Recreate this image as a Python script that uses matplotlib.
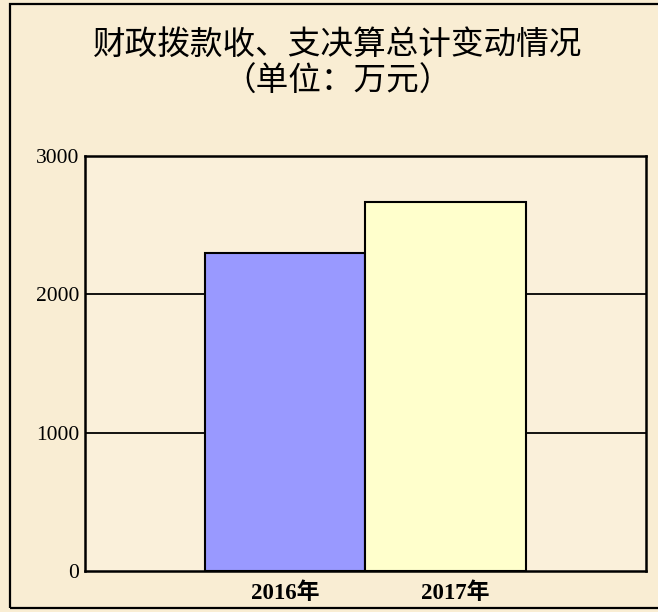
import matplotlib.pyplot as plt
from matplotlib.patches import Rectangle

plt.rcParams['font.family'] = ['Liberation Serif', 'Noto Sans CJK SC']

# data
years = ['2016年', '2017年']
amounts = [2300, 2665]
bar_colors = ['#9999FF', '#FFFFCC']
y_ticks = [0, 1000, 2000, 3000]

title = '财政拨款收、支决算总计变动情况\n（单位：万元）'

W, H = 658, 612
fig = plt.figure(figsize=(W / 100, H / 100), dpi=100, facecolor='#F9EDD3')

# outer frame (runs off the right edge like the original)
fig.patches.append(Rectangle((10 / W, 4 / H), 1.0, 604 / H, transform=fig.transFigure,
                             fill=False, edgecolor='black', linewidth=1.6))

ax = fig.add_axes([85 / W, (H - 571) / H, (646 - 85) / W, (571 - 156) / H])
ax.set_facecolor('#FAF0DA')

x = [0, 1]
ax.bar(x, amounts, width=1.0, color=bar_colors, edgecolor='black', linewidth=1.5, zorder=3)

ax.set_ylim(0, 3000)
ax.set_xlim(-1.246, 2.249)
ax.set_yticks(y_ticks)
ax.set_yticklabels([str(v) for v in y_ticks], fontsize=15.5)
ax.set_xticks([0, 1.06])
ax.set_xticklabels(years, fontsize=16.5, fontweight='bold')
ax.tick_params(length=0, pad=4)
ax.tick_params(axis='x', pad=8)

for v in y_ticks[1:-1]:
    ax.axhline(v, color='black', linewidth=1.3, zorder=1)

for s in ax.spines.values():
    s.set_linewidth(1.8)

fig.text(338 / W, 1 - 63 / H, title, ha='center', va='center', fontsize=23.5,
         family=['Noto Sans CJK SC'], linespacing=1.2)

fig.savefig('out.png', dpi=100, facecolor=fig.get_facecolor())
